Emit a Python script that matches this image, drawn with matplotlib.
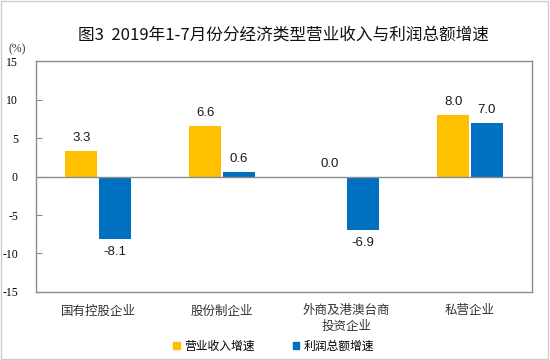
import numpy as np
import matplotlib.pyplot as plt
from matplotlib.patches import Patch

plt.rcParams['font.family'] = ['Noto Sans CJK SC', 'DejaVu Sans']

categories = ['国有控股企业', '股份制企业', '外商及港澳台商\n投资企业', '私营企业']
revenue = [3.3, 6.6, 0.0, 8.0]
profit = [-8.1, 0.6, -6.9, 7.0]
yticks = [-15, -10, -5, 0, 5, 10, 15]

orange = '#FFC000'
blue = '#0070C0'
grey = '#8c8c8c'

fig = plt.figure(figsize=(5.5, 3.6), dpi=100)
ax = fig.add_axes([0.0655, 0.189, 0.902, 0.641])

x = np.arange(len(categories))
w = 0.258
gap = 0.013
ax.bar(x - w / 2 - gap / 2, revenue, w, color=orange)
ax.bar(x + w / 2 + gap / 2, profit, w, color=blue)

# value labels
def label(xs, vals):
    for xi, v in zip(xs, vals):
        off = 5 if v >= 0 else -5
        ax.annotate(f'{v:.1f}', (xi, v), xytext=(0, off), textcoords='offset points',
                    ha='center', va='bottom' if v >= 0 else 'top',
                    fontsize=9.5, family='Liberation Sans', color='#1a1a1a')

label(x - w / 2 - gap / 2, revenue)
label(x + w / 2 + gap / 2, profit)

ax.axhline(0, color=grey, lw=1)
ax.set_xlim(-0.5, 3.5)
ax.set_ylim(-15, 15)
ax.set_yticks(yticks)
ax.set_yticklabels([str(t) for t in yticks], family='Liberation Serif', fontsize=8.5)
ax.set_xticks(x)
ax.set_xticklabels(categories, fontsize=9, color='#333333', linespacing=1.25)
ax.tick_params(axis='x', length=0, pad=9)
ax.tick_params(axis='y', length=4, width=0.8, color=grey, pad=13, direction='in')
for s in ax.spines.values():
    s.set_color(grey)
    s.set_linewidth(1)

fig.text(0.016, 0.864, '(%)', fontsize=8.5, va='center', color='#333333',
         family=['Liberation Serif', 'Noto Sans CJK SC'])
fig.text(0.516, 0.903, '图3  2019年1-7月份分经济类型营业收入与利润总额增速', ha='center', va='center',
         fontsize=12, color='#111111')

handles = [Patch(color=orange, label='营业收入增速'), Patch(color=blue, label='利润总额增速')]
fig.legend(handles=handles, loc='center', bbox_to_anchor=(0.498, 0.038), ncol=2, frameon=False,
           fontsize=8.5, handlelength=0.55, handleheight=0.55, handletextpad=0.4, columnspacing=3.2)

border = plt.Rectangle((0.002, 0.003), 0.995, 0.994, transform=fig.transFigure, fill=False,
                       edgecolor='#cccccc', lw=1)
fig.patches.append(border)

fig.savefig('out.png', dpi=100)
